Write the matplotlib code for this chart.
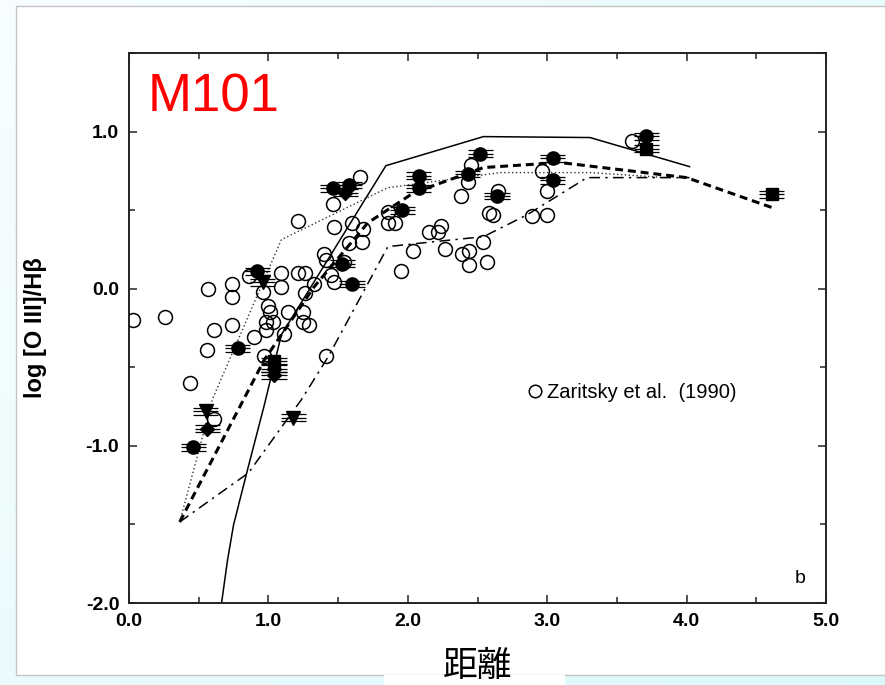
import numpy as np
import matplotlib
matplotlib.use("Agg")
import matplotlib.pyplot as plt
from matplotlib.patches import Rectangle
from matplotlib.lines import Line2D
from matplotlib.ticker import MultipleLocator, FormatStrFormatter

plt.rcParams['font.family'] = ['Liberation Sans', 'DejaVu Sans']
plt.rcParams['axes.unicode_minus'] = False

# Zaritsky et al. (1990) HII regions: radius, log [O III]/Hb
zar_r = [0.03, 0.26, 0.44, 0.57, 0.56, 0.61, 0.74, 0.74, 0.74, 0.61,
         1.21, 1.66, 1.46, 1.47, 1.60, 1.58, 1.68, 1.67, 1.86, 1.86,
         1.91, 1.95, 2.04, 2.15, 2.24, 2.22, 2.27, 2.38, 2.43, 2.45,
         2.39, 2.44, 2.44, 2.54, 2.57, 2.58, 2.61, 2.65, 2.89, 3.00,
         3.00, 2.96, 3.61, 1.40, 1.41, 1.45, 1.47, 0.86, 1.09, 1.21,
         1.26, 0.96, 1.09, 1.33, 1.26, 1.00, 1.01, 1.14, 0.98, 1.03,
         1.25, 1.25, 1.29, 0.98, 0.90, 1.11, 0.97, 1.41, 1.54]
zar_o3 = [-0.20, -0.18, -0.60, 0.00, -0.39, -0.26, 0.03, -0.05, -0.23, -0.83,
          0.43, 0.71, 0.54, 0.39, 0.42, 0.29, 0.38, 0.30, 0.49, 0.42,
          0.42, 0.11, 0.24, 0.36, 0.40, 0.36, 0.25, 0.59, 0.68, 0.79,
          0.22, 0.24, 0.15, 0.30, 0.17, 0.48, 0.47, 0.62, 0.46, 0.47,
          0.62, 0.75, 0.94, 0.22, 0.18, 0.09, 0.04, 0.08, 0.10, 0.10,
          0.10, -0.02, 0.01, 0.03, -0.03, -0.11, -0.15, -0.15, -0.21, -0.21,
          -0.15, -0.21, -0.23, -0.26, -0.31, -0.29, -0.43, -0.43, 0.17]

# new measurements, split by symbol
circ_r = [0.46, 0.78, 0.92, 1.46, 1.58, 1.53, 1.60, 1.96, 2.08, 2.52,
          2.64, 3.04, 3.71, 2.08, 2.43, 3.04]
circ_o3 = [-1.01, -0.38, 0.11, 0.64, 0.66, 0.16, 0.03, 0.50, 0.72, 0.86,
           0.59, 0.83, 0.97, 0.64, 0.73, 0.69]
tri_r = [0.55, 1.18, 0.96]
tri_o3 = [-0.78, -0.82, 0.04]
dia_r = [0.56, 1.04, 1.04, 1.55]
dia_o3 = [-0.89, -0.55, -0.51, 0.61]
sq_r = [1.04, 3.71, 4.61]
sq_o3 = [-0.46, 0.89, 0.60]
r_err = 0.09

# model curves
solid_r = [0.664, 0.707, 0.75, 0.85, 0.971, 1.093, 1.843, 2.543, 3.307, 4.021]
solid_o3 = [-2.0, -1.726, -1.503, -1.153, -0.739, -0.293, 0.783, 0.968, 0.962, 0.777]
dash_r = [0.364, 0.971, 1.329, 1.714, 2.043, 2.543, 3.093, 4.0, 4.614]
dash_o3 = [-1.484, -0.452, 0.013, 0.42, 0.611, 0.771, 0.803, 0.707, 0.516]
dot_r = [0.364, 0.60, 1.093, 1.857, 2.664, 3.307, 3.857]
dot_o3 = [-1.484, -0.70, 0.312, 0.643, 0.739, 0.739, 0.707]
dashdot_r = [0.364, 0.857, 1.236, 1.429, 1.857, 2.186, 2.543, 2.857, 3.286, 4.021]
dashdot_o3 = [-1.484, -1.172, -0.707, -0.433, 0.268, 0.299, 0.331, 0.471, 0.707, 0.707]

W, H = 885, 685
fig = plt.figure(figsize=(W / 100, H / 100), dpi=100)

# page background: pale cyan wash, white sheet on top
bg = fig.add_axes([0, 0, 1, 1], zorder=-5)
gx, gy = np.meshgrid(np.linspace(0, 1, 64), np.linspace(0, 1, 64))
c0 = np.array([0.97, 0.995, 1.0])
c1 = np.array([0.86, 0.975, 0.985])
t = np.clip(0.55 * gx + 0.45 * gy, 0, 1)[..., None]
bg.imshow(c0 * (1 - t) + c1 * t, extent=[0, 1, 0, 1], aspect='auto', origin='upper')
bg.add_patch(Rectangle((16 / W, 1 - 675 / H), 1.0, (675 - 6) / H, transform=bg.transAxes,
                       fc='white', ec='#c4c4c4', lw=1.0))
bg.add_patch(Rectangle((384 / W, 0), (565 - 384) / W, 1 - 675 / H, transform=bg.transAxes,
                       fc='white', ec='none'))
bg.set_xlim(0, 1)
bg.set_ylim(0, 1)
bg.axis('off')

ax = fig.add_axes([129 / W, 1 - 603 / H, (826 - 129) / W, (603 - 53) / H])
ax.set_xlim(0, 5)
ax.set_ylim(-2, 1.5)

ax.plot(solid_r, solid_o3, color='black', lw=1.1, zorder=2)
ax.plot(dash_r, dash_o3, color='black', lw=2.2, ls=(0, (2.6, 1.6)), zorder=2)
ax.plot(dot_r, dot_o3, color='#333333', lw=1.0, ls=(0, (1, 1.8)), zorder=2)
ax.plot(dashdot_r, dashdot_o3, color='black', lw=1.1, ls=(0, (7, 3.5, 1.5, 3.5)), zorder=2)

ax.plot(zar_r, zar_o3, ls='none', marker='o', ms=10, mfc='none', mec='black',
        mew=1.1, zorder=3)

# filled points: stacked horizontal error bars
def filled(r, o3, marker, ms):
    for dy in (-0.022, 0.0, 0.022):
        ax.errorbar(r, np.array(o3) + dy, xerr=r_err, fmt='none', ecolor='black',
                    elinewidth=0.9, capsize=0, zorder=4)
    ax.plot(r, o3, ls='none', marker=marker, ms=ms, mfc='black', mec='black', zorder=5)

filled(circ_r, circ_o3, 'o', 9.5)
filled(tri_r, tri_o3, 'v', 10)
filled(dia_r, dia_o3, 'D', 7)
filled(sq_r, sq_o3, 's', 8.5)

for s in ax.spines.values():
    s.set_linewidth(1.4)
    s.set_color('#222222')

ax.xaxis.set_major_locator(MultipleLocator(1.0))
ax.xaxis.set_minor_locator(MultipleLocator(0.5))
ax.yaxis.set_major_locator(MultipleLocator(1.0))
ax.yaxis.set_minor_locator(MultipleLocator(0.5))
ax.xaxis.set_major_formatter(FormatStrFormatter('%.1f'))
ax.yaxis.set_major_formatter(FormatStrFormatter('%.1f'))
ax.tick_params(which='both', direction='in', top=True, right=True, color='#222222', width=1.1)
ax.tick_params(which='major', length=6, labelsize=14, pad=7)
ax.tick_params(which='minor', length=4)
ax.set_yticks([-2, -1, 0, 1])
for lab in ax.get_xticklabels() + ax.get_yticklabels():
    lab.set_fontweight('bold')

ax.set_ylabel('log [O III]/Hβ', fontsize=17, fontweight='bold')
ax.yaxis.set_label_coords(-0.118, 0.5)
ax.set_xlabel('距離', fontsize=25, family=['Noto Sans CJK JP', 'DejaVu Sans'], va='center')
ax.xaxis.set_label_coords(0.5, -0.115)

leg_handle = Line2D([], [], ls='none', marker='o', ms=9, mfc='none', mec='black', mew=1.1)
ax.legend([leg_handle], ['Zaritsky et al.  (1990)'], loc='center left',
          bbox_to_anchor=(0.574, 0.383), frameon=False, fontsize=14.5,
          handlelength=0.6, handletextpad=0.3, borderpad=0, borderaxespad=0)

ax.text(0.963, 0.036, 'b', transform=ax.transAxes, fontsize=14, ha='center', va='baseline')

fig.text(148 / W, 1 - 112 / H, 'M101', color='#ff0000', fontsize=38, ha='left', va='baseline')

fig.savefig('out.png', dpi=100)
